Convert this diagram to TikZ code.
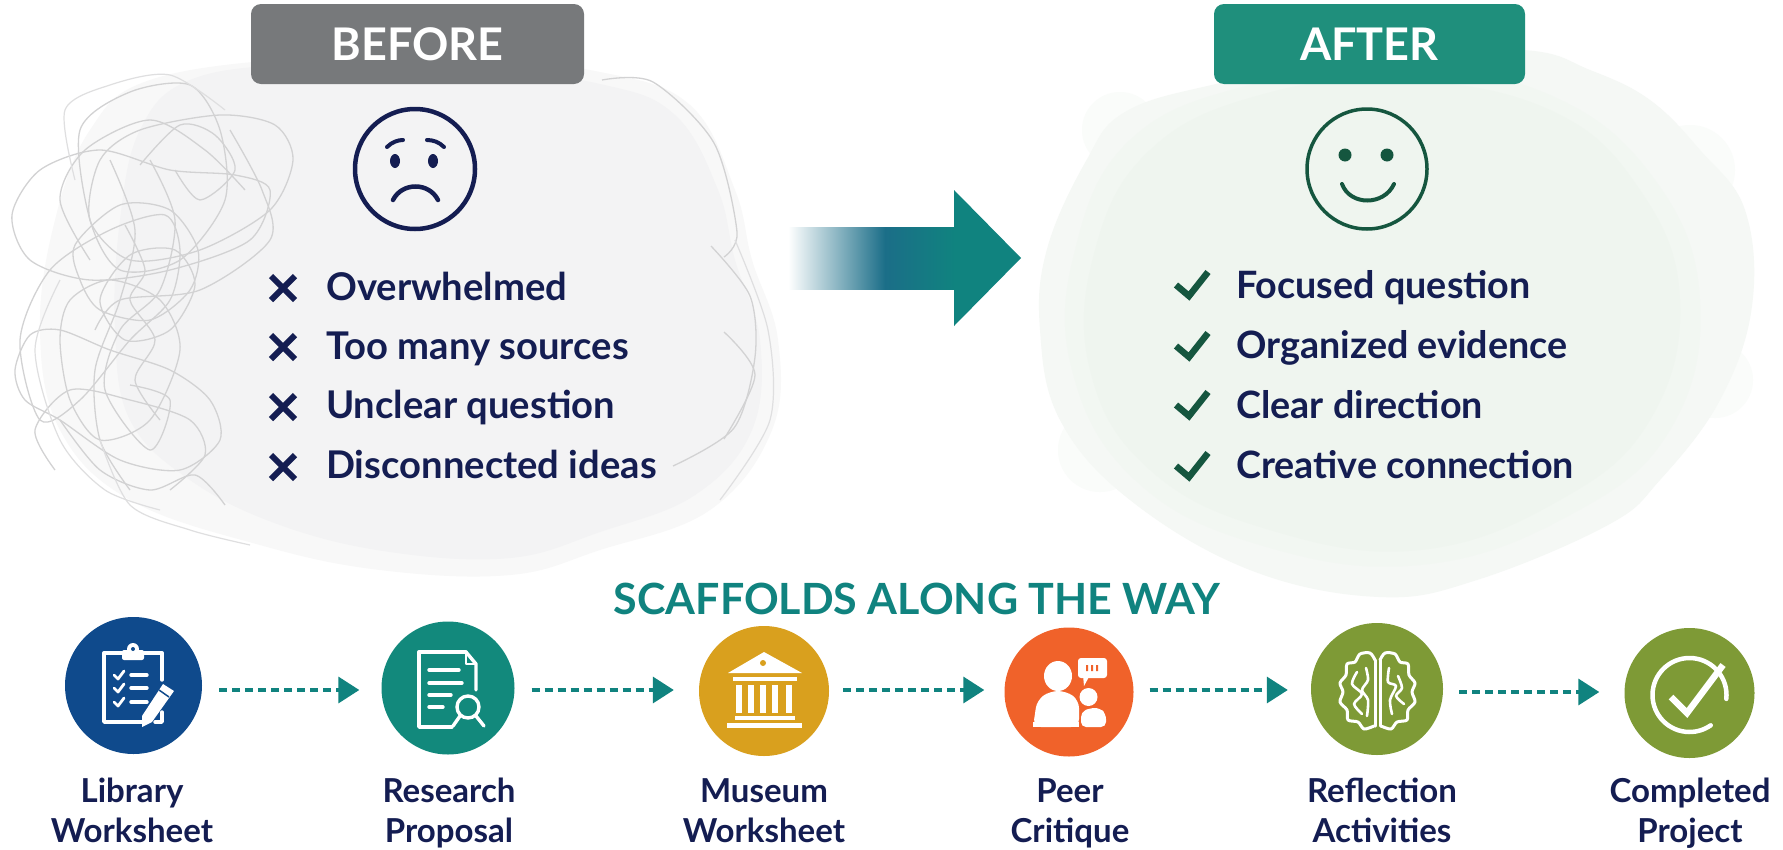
\documentclass[tikz,border=0pt]{standalone}
\usepackage{fontspec}
\setmainfont{Lato}
\usetikzlibrary{arrows.meta,calc}
\definecolor{navy}{HTML}{141D52}
\definecolor{teal1}{HTML}{10837F}
\definecolor{arrowmid}{HTML}{1B6E88}
\definecolor{pillgray}{HTML}{77797B}
\definecolor{pillteal}{HTML}{1F8F7C}
\definecolor{darkgreen}{HTML}{15563F}
\definecolor{blobgray}{HTML}{F3F3F4}
\definecolor{blobgrayout}{HTML}{F8F8F8}
\definecolor{blobfaint}{HTML}{FAFCFA}
\definecolor{bloboutg}{HTML}{F5F8F5}
\definecolor{blobing}{HTML}{EFF5EF}
\definecolor{cblue}{HTML}{0F4A8C}
\definecolor{cteal}{HTML}{12897C}
\definecolor{cgold}{HTML}{D9A01E}
\definecolor{corange}{HTML}{F0622A}
\definecolor{colive}{HTML}{7E9A36}
\definecolor{scribc}{HTML}{D2D2D3}
\tikzset{
  pill/.style={rounded corners=10pt,text=white,font=\fontsize{45}{45}\selectfont\bfseries,inner sep=0pt},
  listb/.style={anchor=base west,text=navy,inner sep=0pt,font=\fontsize{38.2}{38.2}\selectfont\bfseries},
  lista/.style={anchor=base west,text=navy,inner sep=0pt,font=\fontsize{37.7}{37.7}\selectfont\bfseries},
  badge/.style={circle,inner sep=0pt},
  captext/.style={align=center,anchor=base,text=navy,inner sep=0pt,font=\fontsize{33}{40}\selectfont\bfseries},
  scaffarrow/.style={draw=teal1,line width=3.5pt,dash pattern=on 8pt off 5pt,-{Triangle[length=21pt,width=26pt,fill=teal1]}},
  scrib/.style={draw=scribc,line width=1.3pt},
  scribf/.style={draw=scribc!70!white,line width=1.2pt},
  xmark/.style={draw=navy,line width=6pt},
  cmark/.style={draw=darkgreen,line width=6.5pt,line join=miter},
  ico/.style={draw=white,line width=3.4pt,line cap=round,line join=round}
}
\begin{document}
\begin{tikzpicture}[x=1pt,y=-1pt]
\useasboundingbox (0,0) rectangle (1783,849);
\fill[white] (0,0) rectangle (1783,849);
% before blob
\fill[blobgrayout] plot[smooth cycle,tension=.65] coordinates {(150,80)(300,58)(450,56)(600,72)(690,105)(735,190)(752,260)(778,340)(772,430)(710,510)(600,550)(510,575)(380,570)(260,545)(130,500)(60,430)(40,330)(55,220)(90,130)};
\fill[blobgray] plot[smooth cycle,tension=.65] coordinates {(190,80)(300,64)(450,64)(600,84)(675,115)(718,190)(735,260)(760,340)(752,430)(695,495)(600,532)(510,558)(390,552)(280,525)(190,480)(130,420)(115,330)(120,220)(140,130)};
% after blob
\fill[blobfaint] (1120,130) circle[radius=38] (1690,170) circle[radius=45] (1715,380) circle[radius=38] (1100,450) circle[radius=42];
\fill[bloboutg] plot[smooth cycle,tension=.65] coordinates {(1086,161)(1125,112)(1216,84)(1370,55)(1523,50)(1590,70)(1650,100)(1700,150)(1745,210)(1752,306)(1720,400)(1660,480)(1608,525)(1477,580)(1379,597)(1250,570)(1130,500)(1060,420)(1040,330)(1047,249)};
\fill[blobing!50!bloboutg] plot[smooth cycle,tension=.7] coordinates {(1075,250)(1130,140)(1250,85)(1400,68)(1550,95)(1655,180)(1700,300)(1670,430)(1570,515)(1420,565)(1260,545)(1135,480)(1072,370)};
\fill[blobing] plot[smooth cycle,tension=.7] coordinates {(1095,250)(1150,150)(1260,95)(1400,80)(1550,110)(1640,190)(1680,300)(1650,420)(1560,500)(1420,550)(1270,530)(1150,470)(1090,370)};
% scribbles
\draw[scrib] plot[smooth cycle] coordinates {(80,130)(130,92)(190,85)(220,130)(225,200)(180,260)(120,270)(90,220)};
\draw[scrib] plot[smooth cycle] coordinates {(140,130)(220,115)(275,125)(293,160)(270,210)(200,250)(130,260)(90,220)(100,160)};
\draw[scrib] plot[smooth cycle] coordinates {(12,215)(40,170)(100,150)(170,170)(235,175)(270,190)(250,240)(170,270)(90,280)(30,260)};
\draw[scrib] plot[smooth cycle] coordinates {(75,245)(120,205)(170,210)(198,250)(190,290)(150,320)(100,310)(80,280)};
\draw[scrib] plot[smooth cycle] coordinates {(20,340)(50,270)(110,230)(165,215)(180,250)(170,300)(130,340)(80,400)(40,420)};
\draw[scrib] plot[smooth cycle] coordinates {(15,370)(30,335)(60,330)(110,350)(170,370)(210,400)(220,440)(180,470)(120,460)(60,420)(25,400)};
\draw[scrib] plot[smooth cycle] coordinates {(60,340)(70,300)(110,280)(160,300)(180,350)(150,420)(100,440)(70,400)};
\draw[scrib] plot[smooth] coordinates {(60,420)(100,470)(150,490)(195,475)(225,505)};
\draw[scrib] plot[smooth] coordinates {(95,330)(120,300)(200,290)(270,240)(262,190)(230,130)};
\draw[scrib] plot[smooth] coordinates {(110,160)(135,230)(120,300)(95,370)(100,440)(130,490)};
\draw[scrib] plot[smooth] coordinates {(150,160)(175,220)(160,290)(120,330)(105,390)(150,450)(170,400)(130,385)};
\draw[scrib] plot[smooth] coordinates {(125,225)(145,270)(130,300)(155,340)(135,380)(160,420)};
\draw[scrib] plot[smooth] coordinates {(140,165)(180,125)(215,135)(235,170)(200,200)(175,170)};
\draw[scrib] plot[smooth] coordinates {(55,470)(35,430)(70,390)(130,400)(190,420)(205,455)(170,490)};
\draw[scrib] plot[smooth cycle] coordinates {(100,300)(130,255)(175,250)(195,285)(170,330)(125,340)};
\draw[scrib] plot[smooth] coordinates {(90,260)(60,200)(85,150)(150,120)(205,150)(245,190)};
\draw[scribf] plot[smooth] coordinates {(100,440)(130,505)(190,530)(250,545)};
\draw[scribf] plot[smooth] coordinates {(60,280)(35,350)(60,440)(105,490)(160,510)};
\draw[scribf] plot[smooth] coordinates {(75,180)(65,110)(110,85)(170,75)(225,110)};
\draw[scrib] plot[smooth] coordinates {(602,80)(653,82)(714,143)(737,232)(724,257)};
\draw[scrib] plot[smooth] coordinates {(711,246)(750,296)(755,357)(734,428)(673,466)};
\draw[scrib] plot[smooth] coordinates {(724,332)(755,375)(724,439)};
\draw[scribf] plot[smooth] coordinates {(735,240)(768,330)(770,420)(720,500)};
% pills
\node[pill,fill=pillgray,minimum width=333pt,minimum height=80pt] (before) at (417.5,44) {\raisebox{-2.5pt}{BEFORE}};
\node[pill,fill=pillteal,minimum width=311pt,minimum height=80pt] (after) at (1369.5,44) {\raisebox{-2.5pt}{AFTER}};
% faces
\node[circle,draw=navy,line width=4.5pt,minimum size=120pt,inner sep=0pt] (sad) at (415,169) {};
\fill[navy] (395,161) ellipse[x radius=5,y radius=7] (433,161) ellipse[x radius=5,y radius=7];
\draw[navy,line width=4pt,line cap=round] (387,147) .. controls (392,142) and (398,140) .. (403,140);
\draw[navy,line width=4pt,line cap=round] (427,140) .. controls (433,140) and (439,142) .. (444,147);
\draw[navy,line width=4.5pt,line cap=round] (393,200) .. controls (402,182) and (429,182) .. (438,200);
\node[circle,draw=darkgreen,line width=3.5pt,minimum size=120pt,inner sep=0pt] (happy) at (1367,169) {};
\fill[darkgreen] (1345,155) circle[radius=6.5] (1387,155) circle[radius=6.5];
\draw[darkgreen,line width=4pt,line cap=round] (1342,184) .. controls (1350,206) and (1384,206) .. (1394,184);
% before list
\node[listb] (b1) at (326,300) {Overwhelmed};
\node[listb] (b2) at (326,359) {Too many sources};
\node[listb] (b3) at (326,418) {Unclear question};
\node[listb] (b4) at (326,478) {Disconnected ideas};
\foreach \yy in {288,347,407,467}{
  \draw[xmark] (271,\yy-12) -- (295,\yy+12) (295,\yy-12) -- (271,\yy+12);
}
% after list
\node[lista] (a1) at (1236,298) {Focused question};
\node[lista] (a2) at (1236,358) {Organized evidence};
\node[lista] (a3) at (1236,418) {Clear direction};
\node[lista] (a4) at (1236,478) {Creative connection};
\foreach \yy in {285,346,405,466}{
  \draw[cmark] (1176,\yy) -- (1189,\yy+11) -- (1208,\yy-13);
}
% big arrow
\shade[left color=white,right color=arrowmid] (788,227) rectangle (885,289);
\shade[left color=arrowmid,right color=teal1] (885,227) rectangle (955,289);
\fill[teal1] (954,190) -- (1021,258) -- (954,326) -- cycle;
% title
\node[text=teal1,inner sep=0pt,font=\fontsize{43}{43}\selectfont\bfseries] (title) at (917,599) {SCAFFOLDS ALONG THE WAY};
% badges
\node[badge,fill=cblue,minimum size=137pt] (c1) at (133.5,685.5) {};
\node[badge,fill=cteal,minimum size=133pt] (c2) at (448,688) {};
\node[badge,fill=cgold,minimum size=130pt] (c3) at (764,691) {};
\node[badge,fill=corange,minimum size=129pt] (c4) at (1069,692) {};
\node[badge,fill=colive,minimum size=132pt] (c5) at (1377,689) {};
\node[badge,fill=colive,minimum size=130pt] (c6) at (1689.5,693) {};
% connectors
\draw[scaffarrow,shorten <=17pt,shorten >=22pt] (c1.east |- 0,690) -- (c2.west |- 0,690);
\draw[scaffarrow,shorten <=17pt,shorten >=25pt] (c2.east |- 0,690) -- (c3.west |- 0,690);
\draw[scaffarrow,shorten <=14pt,shorten >=20pt] (c3.east |- 0,690) -- (c4.west |- 0,690);
\draw[scaffarrow,shorten <=16pt,shorten >=23pt] (c4.east |- 0,690) -- (c5.west |- 0,690);
\draw[scaffarrow,shorten <=16pt,shorten >=25pt] (c5.east |- 0,692) -- (c6.west |- 0,692);
% captions
\node[captext] (t1) at (132,842) {Library\\Worksheet};
\node[captext] (t2) at (449,842) {Research\\Proposal};
\node[captext] (t3) at (764,842) {Museum\\Worksheet};
\node[captext] (t4) at (1070,842) {Peer\\Critique};
\node[captext] (t5) at (1382,842) {Reflection\\Activities};
\node[captext] (t6) at (1690,842) {Completed\\Project};
% icon 1 clipboard
\draw[ico] (122,653) -- (104,653) -- (104,722) -- (144,722);
\draw[ico] (144,653) -- (162,653) -- (162,680);
\draw[ico] (162,712) -- (162,722) -- (155,722);
\fill[white,rounded corners=2pt] (122,650) rectangle (144,660);
\fill[white] (133,649) circle[radius=6];
\fill[cblue] (133,649) circle[radius=2];
\foreach \yy in {675,688,702}{
  \draw[ico,line width=2.8pt] (114,\yy) -- (118,\yy+4) -- (124,\yy-4);
  \draw[ico,line width=3.4pt] (131,\yy) -- (147,\yy);
}
\fill[white] (163,684) -- (174,691) -- (152,722) -- (142,727) -- (142,716) -- cycle;
\draw[cblue,line width=1.5pt] (159,690) -- (169,697);
% icon 2 document
\draw[ico] (466,652) -- (419,652) -- (419,727) -- (452,727);
\draw[ico] (466,652) -- (476,664) -- (476,690);
\draw[ico,line width=2pt] (466,652) -- (466,664) -- (476,664);
\foreach \yy/\xx in {670/459,683/462,695/451,707/443}{
  \draw[ico] (429,\yy) -- (\xx,\yy);
}
\draw[ico] (468,707) circle[radius=11];
\draw[ico] (476,716) -- (484,726);
\draw[ico] (460,716) -- (453,726);
% icon 3 museum
\fill[white] (764,652) -- (802,673) -- (728,673) -- cycle;
\fill[cgold] (763,663) circle[radius=3];
\fill[white] (733,677) rectangle (797,681);
\foreach \xx in {739,751,763,775,789}{
  \fill[white] (\xx-3,685) rectangle (\xx+3,713);
}
\fill[white] (735,716) rectangle (795,720);
\fill[white] (727,723) rectangle (802,728);
% icon 4 people
\fill[white] (1058,676) ellipse[x radius=14,y radius=15];
\fill[white,rounded corners=8pt] (1033,727) -- (1037,700) -- (1050,691) -- (1066,691) -- (1079,700) -- (1079,727) -- cycle;
\fill[white] (1033,727) rectangle (1079,722);
\fill[white] (1088.5,697) circle[radius=9];
\fill[white,rounded corners=5pt] (1081,727) -- (1081,712) -- (1090,708) -- (1100,708) -- (1106,714) -- (1106,727) -- cycle;
\fill[white,rounded corners=3pt] (1078,658) rectangle (1107,678);
\fill[white] (1083,675) -- (1090,675) -- (1084,686) -- cycle;
\fill[corange] (1086,665) rectangle (1088,671) (1091,665) rectangle (1093,671) (1096,665) rectangle (1098,671);
% icon 5 brain
\draw[ico,line width=3pt] plot[smooth] coordinates {(1375,660)(1370,653)(1360,654)(1355,662)(1347,664)(1346,675)(1340,683)(1343,692)(1340,702)(1347,710)(1348,720)(1358,722)(1364,729)(1374,726)};
\draw[ico,line width=3pt] plot[smooth] coordinates {(1380,660)(1385,653)(1395,654)(1400,662)(1408,664)(1409,675)(1415,683)(1412,692)(1415,702)(1408,710)(1407,720)(1397,722)(1391,729)(1381,726)};
\draw[ico,line width=3pt] (1375,660) -- (1375,726) (1380,660) -- (1380,726);
\draw[ico,line width=2.6pt] plot[smooth] coordinates {(1357,672)(1352,684)(1362,694)(1354,704)(1362,714)};
\draw[ico,line width=2.6pt] plot[smooth] coordinates {(1366,668)(1368,680)(1362,690)(1368,700)(1367,716)};
\draw[ico,line width=2.6pt] plot[smooth] coordinates {(1389,668)(1388,682)(1396,686)(1390,700)(1392,714)};
\draw[ico,line width=2.6pt] plot[smooth] coordinates {(1398,676)(1402,688)(1396,696)(1404,704)};
% icon 6 check
\draw[ico,line width=4.5pt] (1689.5,695) ++(6:37) arc[start angle=6,end angle=-305,radius=37];
\draw[ico,line width=6.5pt,line cap=butt,line join=miter] (1671,697) -- (1687,713) -- (1723,665);
\end{tikzpicture}
\end{document}
